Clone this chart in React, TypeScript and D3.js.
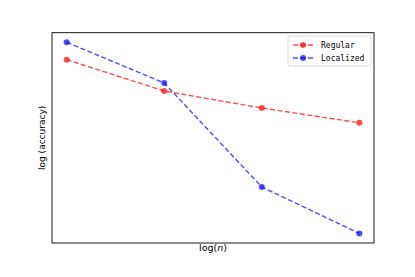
import React from "react";
import * as d3 from "d3";

// log(n) 위치 (눈금 없음)
const steps = [1, 2, 3, 4];
const regular = [0.909, 0.745, 0.656, 0.579];
const localized = [1.0, 0.787, 0.243, 0.0];
const seriesNames = ["Regular", "Localized"];
const seriesColors = ["rgba(255,0,0,0.7)", "rgba(0,0,255,0.7)"];

const W = 415;
const H = 277;
const box = { left: 52, right: 374, top: 32.7, bottom: 243 };

const App = () => {
  const xPad = (steps[steps.length - 1] - steps[0]) * 0.05;
  const x = d3
    .scaleLinear()
    .domain([steps[0] - xPad, steps[steps.length - 1] + xPad])
    .range([box.left, box.right]);

  const all = regular.concat(localized);
  const lo = d3.min(all) as number;
  const hi = d3.max(all) as number;
  const yPad = (hi - lo) * 0.05;
  const y = d3
    .scaleLinear()
    .domain([lo - yPad, hi + yPad])
    .range([box.bottom, box.top]);

  const line = d3
    .line<number>()
    .x((_, i) => x(steps[i]))
    .y((d) => y(d));

  const series = [regular, localized];

  return (
    <svg
      width={W}
      height={H}
      style={{ position: "absolute", left: 0, top: 0, background: "#fff" }}
      fontFamily="'DejaVu Sans', sans-serif"
    >
      {series.map((vals, si) => (
        <g key={seriesNames[si]}>
          <path
            d={line(vals) || ""}
            fill="none"
            stroke={seriesColors[si]}
            strokeWidth={1.4}
            strokeDasharray="5,2.5"
          />
          {vals.map((v, i) => (
            <circle
              key={i}
              cx={x(steps[i])}
              cy={y(v)}
              r={3}
              fill={seriesColors[si]}
            />
          ))}
        </g>
      ))}

      <rect
        x={box.left}
        y={box.top}
        width={box.right - box.left}
        height={box.bottom - box.top}
        fill="none"
        stroke="#000"
        strokeWidth={0.9}
      />

      {/* 범례 */}
      <g>
        <rect
          x={288}
          y={36}
          width={83}
          height={30}
          rx={2}
          fill="#fff"
          fillOpacity={0.8}
          stroke="#d6d6d6"
          strokeWidth={0.9}
        />
        {seriesNames.map((name, i) => (
          <g key={name} transform={`translate(0,${45 + i * 13})`}>
            <line
              x1={293}
              x2={313}
              y1={0}
              y2={0}
              stroke={seriesColors[i]}
              strokeWidth={1.4}
              strokeDasharray="5,2.5"
            />
            <circle cx={303} cy={0} r={3} fill={seriesColors[i]} />
            <text
              x={321}
              y={3}
              fontSize={8}
              fontFamily="'DejaVu Sans Mono', monospace"
              fill="#000"
            >
              {name}
            </text>
          </g>
        ))}
      </g>

      <text
        x={(box.left + box.right) / 2}
        y={251}
        textAnchor="middle"
        fontSize={9.5}
        fill="#000"
      >
        log(<tspan fontStyle="italic">n</tspan>)
      </text>
      <text
        transform={`translate(45,${(box.top + box.bottom) / 2}) rotate(-90)`}
        textAnchor="middle"
        fontSize={9}
        fill="#000"
      >
        log (accuracy)
      </text>
    </svg>
  );
};

export default App;
